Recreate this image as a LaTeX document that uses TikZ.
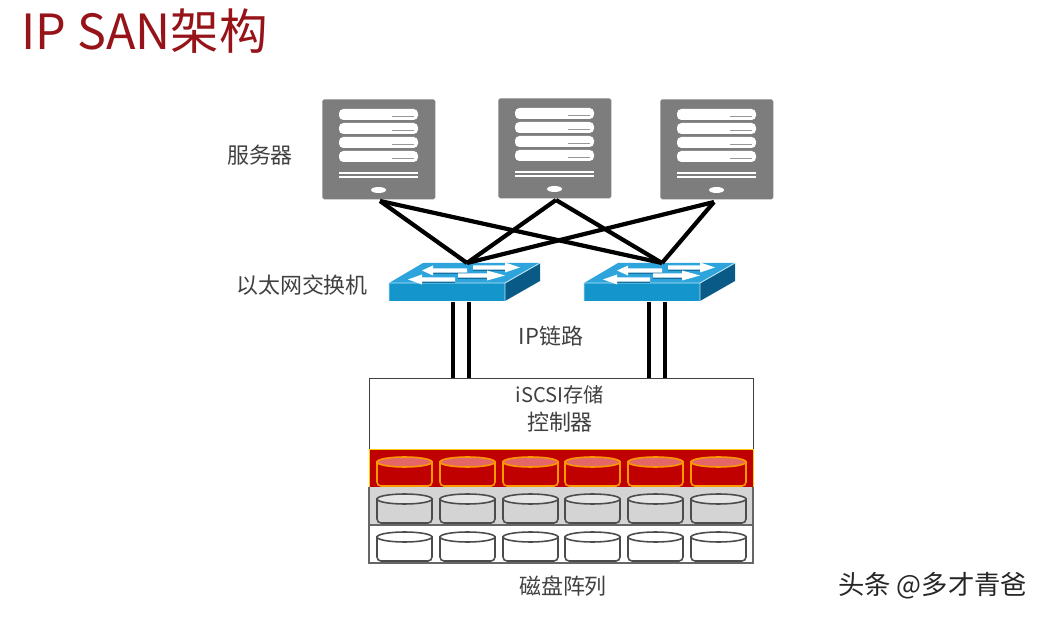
\documentclass[tikz,border=0pt]{standalone}
\usepackage{fontspec}
\setmainfont{Noto Sans CJK SC}
\usepackage{tikz}
\usetikzlibrary{positioning}
\definecolor{titlered}{RGB}{150,20,25}
\definecolor{servergray}{RGB}{125,125,125}
\definecolor{swfront}{RGB}{20,150,205}
\definecolor{swtop}{RGB}{45,165,220}
\definecolor{swside}{RGB}{10,90,135}
\definecolor{shelfred}{RGB}{192,0,0}
\definecolor{labelgray}{RGB}{64,64,64}
\tikzset{
x=0.02cm, y=-0.02cm,
slot/.style={fill=white, rounded corners=2.5pt},
link/.style={draw=black, line width=2.4pt},
label/.style={text=labelgray, font=\fontsize{12.5}{16}\selectfont, inner sep=0pt, align=center},
}
% one server, #1 = left edge, #2 = top edge
\newcommand{\serverbox}[3]{
\node[fill=servergray, rounded corners=1pt, minimum width=2.26cm, minimum height=2cm, inner sep=0pt, anchor=north west] (#3) at (#1,#2) {};
\foreach \yy in {10,24,38,52}
  \fill[slot] (#1+17,#2+\yy) rectangle (#1+96,#2+\yy+11);
\foreach \yy in {17,31,45,59}
  \draw[servergray!80, line width=0.6pt] (#1+70,#2+\yy+0.5) -- (#1+92,#2+\yy+0.5);
\fill[white] (#1+17,#2+73.5) rectangle (#1+96,#2+75.5);
\fill[white] (#1+17,#2+77.5) rectangle (#1+96,#2+79.5);
\fill[white] (#1+56.5,#2+91) ellipse (7.5 and 3);
}
% arrow on a switch lid: left edge, tail, head base, tip, height
\newcommand{\lidarrow}[5]{
\fill[swside!70!swtop] (#1+#2,#5) -- (#1+#3,#5) -- (#1+#3,#5+3.5) -- (#1+#2,#5+3.5) -- cycle;
\fill[white] (#1+#2,#5-2.2) -- (#1+#3,#5-2.2) -- (#1+#3,#5-5) -- (#1+#4,#5) -- (#1+#3,#5+5) -- (#1+#3,#5+2.2) -- (#1+#2,#5+2.2) -- cycle;
}
% one switch, #1 = left edge of front face
\newcommand{\switchbox}[2]{
\fill[swtop] (#1,283) -- (#1+34,263) -- (#1+151,263) -- (#1+116,283) -- cycle;
\fill[swfront] (#1,283) rectangle (#1+116,301);
\fill[swside] (#1+116,283) -- (#1+151,263) -- (#1+151,281) -- (#1+116,301) -- cycle;
\draw[white!70!swtop, line width=0.5pt] (#1,301) -- (#1,283) -- (#1+116,283) -- (#1+116,301) (#1+116,283) -- (#1+151,263);
\lidarrow{#1}{84}{116}{131}{267.5}
\lidarrow{#1}{78}{44}{33}{270.5}
\lidarrow{#1}{69}{98}{116}{275.5}
\lidarrow{#1}{66}{33}{19}{279.5}
\coordinate (#2) at (#1+78,263);
}
% one disk, #1 = left, #2 = top, #3 = edge colour, #4 = body, #5 = lid
\newcommand{\diskbox}[5]{
\filldraw[draw=#3, fill=#4, line width=0.9pt] (#1,#2+5) -- (#1,#2+25) to[out=-90,in=180] (#1+4,#2+29) -- (#1+51,#2+29) to[out=0,in=-90] (#1+55,#2+25) -- (#1+55,#2+5) -- cycle;
\filldraw[draw=#3, fill=#5, line width=0.9pt] (#1+27.5,#2+5) ellipse (27.5 and 5);
}
\begin{document}
\begin{tikzpicture}
\useasboundingbox (0,0) rectangle (1047,617);
\node[text=titlered, font=\fontsize{27.6}{32}\selectfont, inner sep=0pt, anchor=west] (title) at (21,31) {IP SAN架构};

\serverbox{322}{99}{srvA}
\serverbox{498}{98}{srvB}
\serverbox{660}{99}{srvC}
\node[label] (srvtext) at (260,155) {服务器};

\coordinate (a) at (380,201);
\coordinate (b) at (556,200);
\coordinate (c) at (714,202);
\switchbox{389}{swA}
\switchbox{584}{swB}
\node[label] (swtext) at (302,285) {以太网交换机};

\draw[link] (a) -- (swA);
\draw[link] (a) -- (swB);
\draw[link] (b) -- (swA);
\draw[link] (b) -- (swB);
\draw[link] (c) -- (swA);
\draw[link] (c) -- (swB);

\node[draw=labelgray, fill=white, line width=0.6pt, minimum width=7.68cm, minimum height=1.42cm, inner sep=0pt, anchor=north west] (ctrl) at (369,378) {};
\node[label] (ctrltext) at (560,409) {{\fontsize{11.5}{16}\selectfont iSCSI存储}\\控制器};

\coordinate (p1) at (453,302); \coordinate (q1) at (453,378);
\coordinate (p2) at (469,302); \coordinate (q2) at (469,378);
\coordinate (p3) at (649,302); \coordinate (q3) at (649,378);
\coordinate (p4) at (665,302); \coordinate (q4) at (665,378);
\draw[link] (p1) -- (q1);
\draw[link] (p2) -- (q2);
\draw[link] (p3) -- (q3);
\draw[link] (p4) -- (q4);
\node[label] (iptext) at (551,336) {IP链路};

\fill[black!17] (369,487) rectangle (753,525);
\draw[black!60, line width=0.6pt] (369,525) rectangle (753,563);
\draw[black!60, line width=0.6pt] (369,487) -- (369,525) (753,487) -- (753,525);
\fill[shelfred] (369,449) rectangle (753,487);
\draw[yellow!70!orange, line width=0.5pt] (369,487) -- (369,449) -- (753,449) -- (753,487);
\foreach \xx in {377,440,503,565,628,691} {
  \diskbox{\xx}{457}{orange!80!yellow}{shelfred}{red!30!shelfred!60!white}
  \diskbox{\xx}{494}{black!70}{black!17}{black!10}
  \diskbox{\xx}{532}{black!70}{white}{white}
}
\node[label] (disktext) at (563,586) {磁盘阵列};
\node[text=black!85, font=\fontsize{15}{18}\selectfont, inner sep=0pt, anchor=west] (mark) at (838,586) {头条 @多才青爸};
\end{tikzpicture}
\end{document}
